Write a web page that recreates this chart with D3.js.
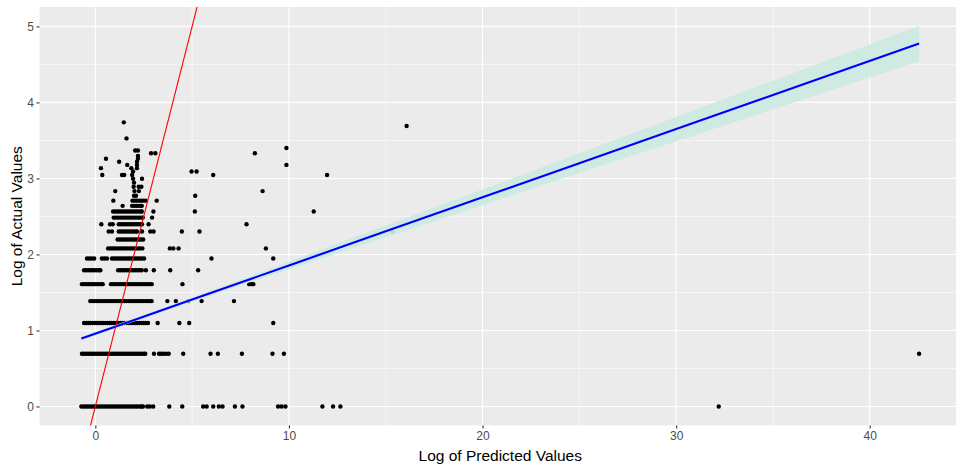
<!DOCTYPE html>
<html>
<head>
<meta charset="utf-8">
<script src="https://cdn.jsdelivr.net/npm/d3@7/dist/d3.min.js"></script>
<style>
  html, body { margin: 0; padding: 0; background: #ffffff; }
  svg { display: block; font-family: Arial, "Liberation Sans", Helvetica, sans-serif; }
</style>
</head>
<body>
<svg id="chart" width="956" height="470"></svg>
<script>
// Observed counts (y is plotted as their natural log)
const actualCounts = [1, 2, 3, 4, 5, 6, 7, 8, 9, 10, 11, 12, 13, 14, 15, 16, 17, 18, 19, 20,
                      21, 22, 23, 24, 25, 26, 27, 28, 29, 30, 34, 40, 42];

// Log of predicted values for each observation, grouped by observed count
const predictedLog = [
  [-0.72,-0.61,-0.5,-0.4,-0.29,-0.18,-0.07,0.04,0.15,0.26,0.38,0.49,0.6,0.71,0.83,0.94,1.05,1.16,1.28,1.39,1.5,1.62,1.73,1.84,1.96,2.07,2.18,2.3,2.39,2.46,2.68,2.82,2.99,3.82,4.49,5.57,5.75,6.09,6.38,6.57,7.21,7.6,9.44,9.62,9.82,11.73,12.28,12.66,32.2],
  [-0.69,-0.58,-0.47,-0.36,-0.25,-0.14,-0.03,0.08,0.19,0.3,0.41,0.52,0.63,0.74,0.85,0.96,1.07,1.18,1.29,1.4,1.51,1.62,1.73,1.84,1.95,2.06,2.17,2.28,2.39,2.5,2.58,3.03,3.29,3.4,3.52,3.66,3.79,4.54,5.95,6.33,7.57,9.15,9.74,42.55],
  [-0.58,-0.47,-0.36,-0.25,-0.14,-0.03,0.08,0.19,0.3,0.41,0.52,0.63,0.74,0.85,0.96,1.07,1.18,1.29,1.4,1.51,1.62,1.73,1.84,1.95,2.06,2.17,2.28,2.39,2.5,2.6,2.72,3.22,4.34,4.85,9.19],
  [-0.26,-0.15,-0.04,0.07,0.18,0.29,0.4,0.51,0.62,0.73,0.84,0.95,1.06,1.17,1.28,1.39,1.5,1.61,1.72,1.83,1.94,2.05,2.16,2.27,2.38,2.49,2.6,2.71,2.82,2.91,3.72,4.16,4.8,5.49,7.16],
  [-0.69,-0.58,-0.47,-0.36,-0.25,-0.14,-0.03,0.08,0.19,0.3,0.38,0.81,0.92,1.03,1.14,1.25,1.36,1.47,1.58,1.69,1.8,1.91,2.02,2.13,2.24,2.35,2.46,2.57,2.68,2.79,2.91,4.5,7.95,8.06,8.16],
  [-0.58,-0.47,-0.36,-0.25,-0.14,-0.03,0.08,0.19,0.26,1.18,1.29,1.4,1.51,1.62,1.73,1.84,1.95,2.06,2.17,2.28,2.4,2.61,3.02,3.87,5.31],
  [-0.43,-0.31,-0.19,-0.06,0.34,0.47,0.6,0.86,0.97,1.08,1.19,1.3,1.41,1.52,1.63,1.74,1.85,1.96,2.07,2.18,2.29,2.4,2.52,6.0,9.19],
  [0.66,0.77,0.88,0.99,1.1,1.21,1.32,1.43,1.54,1.65,1.76,1.87,1.98,2.09,2.2,2.31,2.43,3.85,4.03,4.3,8.81],
  [1.15,1.26,1.37,1.48,1.59,1.7,1.81,1.92,2.03,2.14,2.25,2.36,2.47],
  [0.69,0.86,1.21,1.32,1.43,1.54,1.65,1.76,1.87,1.98,2.09,2.15,2.41,2.84,3.01,4.47,5.38,15.36],
  [0.31,0.76,0.9,1.21,1.32,1.43,1.54,1.65,1.76,1.87,1.98,2.09,2.2,2.31,2.41,2.75,7.81],
  [0.95,1.06,1.17,1.28,1.39,1.5,1.61,1.72,1.83,1.94,2.05,2.16,2.27,2.38,2.45,2.93],
  [0.92,1.03,1.14,1.25,1.36,1.47,1.58,1.69,1.8,1.91,2.02,2.13,2.24,2.35,2.4,3.0,5.14,11.28],
  [1.41,1.9,2.01,2.12,2.23,2.34,2.4],
  [0.93,1.92,2.03,2.14,2.25,2.36,2.47,2.6,3.17],
  [2.0,2.1,5.16],
  [1.03,2.02,2.25,8.64],
  [1.98,2.24,2.38],
  [2.0],
  [1.95,2.41],
  [0.36,1.38,1.49,1.9,6.09,11.97],
  [1.95,4.97,5.23],
  [0.29,1.86,2.15],
  [1.65,2.15,9.87],
  [1.23,2.15],
  [0.55,2.2],
  [2.2],
  [2.88,3.1,8.24],
  [2.06,2.2],
  [9.87],
  [1.61],
  [16.08],
  [1.47]
];

// Linear fit and its confidence band
const fitX  = [-0.72, 1.5, 5, 10, 15, 20, 25, 30, 35, 42.55];
const fitY  = [0.893, 1.093, 1.407, 1.855, 2.304, 2.752, 3.201, 3.649, 4.098, 4.775];
const fitLo = [0.868, 1.073, 1.382, 1.805, 2.227, 2.648, 3.071, 3.489, 3.911, 4.54];
const fitHi = [0.918, 1.113, 1.432, 1.905, 2.381, 2.856, 3.331, 3.809, 4.285, 5.005];

// Reference line y = x
const refSlope = 1, refIntercept = 0;

const xTicks = [0, 10, 20, 30, 40];
const xMinor = [5, 15, 25, 35];
const yTicks = [0, 1, 2, 3, 4, 5];
const yMinor = [0.5, 1.5, 2.5, 3.5, 4.5];

const points = [];
actualCounts.forEach((c, i) => {
  predictedLog[i].forEach(px => points.push({ x: px, y: Math.log(c) }));
});

const panel = { left: 39.5, right: 961, top: 7, bottom: 425.5 };

const allX = points.map(d => d.x).concat(fitX);
const xMin = d3.min(allX), xMax = d3.max(allX);
const xPad = (xMax - xMin) * 0.05;
const allY = points.map(d => d.y).concat(fitLo, fitHi);
const yMin = d3.min(allY), yMax = d3.max(allY);
const yPad = (yMax - yMin) * 0.05;

const x = d3.scaleLinear().domain([xMin - xPad, xMax + xPad]).range([panel.left, panel.right]);
const y = d3.scaleLinear().domain([yMin - yPad, yMax + yPad]).range([panel.bottom, panel.top]);

const svg = d3.select("#chart");

svg.append("defs").append("clipPath").attr("id", "panelClip")
  .append("rect")
  .attr("x", panel.left).attr("y", panel.top)
  .attr("width", panel.right - panel.left).attr("height", panel.bottom - panel.top);

// Panel background
svg.append("rect")
  .attr("x", panel.left).attr("y", panel.top)
  .attr("width", panel.right - panel.left).attr("height", panel.bottom - panel.top)
  .attr("fill", "#EBEBEB");

const grid = svg.append("g").attr("clip-path", "url(#panelClip)");
grid.selectAll(".xminor").data(xMinor).join("line")
  .attr("x1", d => x(d)).attr("x2", d => x(d))
  .attr("y1", panel.top).attr("y2", panel.bottom)
  .attr("stroke", "#fff").attr("stroke-width", 0.55);
grid.selectAll(".yminor").data(yMinor).join("line")
  .attr("y1", d => y(d)).attr("y2", d => y(d))
  .attr("x1", panel.left).attr("x2", panel.right)
  .attr("stroke", "#fff").attr("stroke-width", 0.55);
grid.selectAll(".xmajor").data(xTicks).join("line")
  .attr("x1", d => x(d)).attr("x2", d => x(d))
  .attr("y1", panel.top).attr("y2", panel.bottom)
  .attr("stroke", "#fff").attr("stroke-width", 1.1);
grid.selectAll(".ymajor").data(yTicks).join("line")
  .attr("y1", d => y(d)).attr("y2", d => y(d))
  .attr("x1", panel.left).attr("x2", panel.right)
  .attr("stroke", "#fff").attr("stroke-width", 1.1);

const plot = svg.append("g").attr("clip-path", "url(#panelClip)");

// Observations
plot.append("g").selectAll("circle").data(points).join("circle")
  .attr("cx", d => x(d.x)).attr("cy", d => y(d.y))
  .attr("r", 2.2).attr("fill", "#000");

// Fit band and line
const band = fitX.map((v, i) => ({ x: v, lo: fitLo[i], hi: fitHi[i], y: fitY[i] }));
plot.append("path").datum(band)
  .attr("d", d3.area().x(d => x(d.x)).y0(d => y(d.lo)).y1(d => y(d.hi)))
  .attr("fill", "#CBE9E1").attr("fill-opacity", 0.92);
plot.append("path").datum(band)
  .attr("d", d3.line().x(d => x(d.x)).y(d => y(d.y)))
  .attr("fill", "none").attr("stroke", "#0000FF").attr("stroke-width", 2.1);

// y = x reference line across the panel
const xd = x.domain();
plot.append("line")
  .attr("x1", x(xd[0])).attr("y1", y(refIntercept + refSlope * xd[0]))
  .attr("x2", x(xd[1])).attr("y2", y(refIntercept + refSlope * xd[1]))
  .attr("stroke", "#FF0000").attr("stroke-width", 1.1);

// Axes
const xAxis = svg.append("g")
  .attr("transform", `translate(0,${panel.bottom})`)
  .call(d3.axisBottom(x).tickValues(xTicks).tickSize(3).tickPadding(2.5).tickFormat(d3.format("d")));
const yAxis = svg.append("g")
  .attr("transform", `translate(${panel.left},0)`)
  .call(d3.axisLeft(y).tickValues(yTicks).tickSize(3).tickPadding(2.5).tickFormat(d3.format("d")));
[xAxis, yAxis].forEach(a => {
  a.select(".domain").remove();
  a.selectAll(".tick line").attr("stroke", "#333333").attr("stroke-width", 1.1);
  a.selectAll(".tick text").attr("fill", "#4D4D4D").attr("font-size", "12px")
    .style("font-family", "Arial, 'Liberation Sans', sans-serif");
});

svg.append("text")
  .attr("x", (panel.left + panel.right) / 2).attr("y", 461)
  .attr("text-anchor", "middle").attr("font-size", "15.5px").attr("fill", "#000")
  .text("Log of Predicted Values");
svg.append("text")
  .attr("transform", `translate(22,${(panel.top + panel.bottom) / 2}) rotate(-90)`)
  .attr("text-anchor", "middle").attr("font-size", "15.5px").attr("fill", "#000")
  .text("Log of Actual Values");
</script>
</body>
</html>
